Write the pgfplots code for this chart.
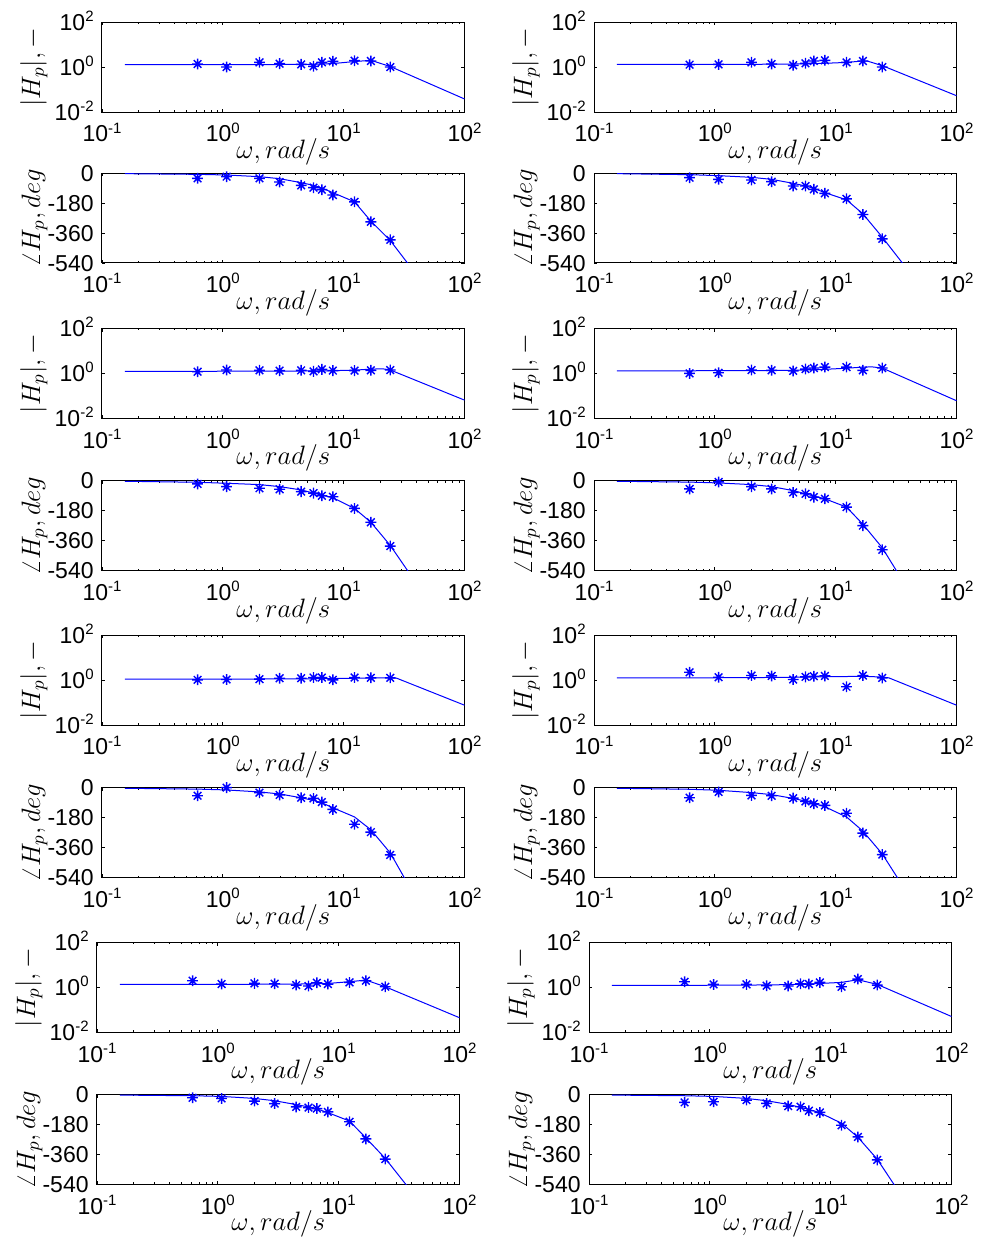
\documentclass[border=0pt]{standalone}
\usepackage{fix-cm}
\usepackage{fontspec}
\setmainfont{Liberation Sans}
\usepackage{pgfplots}
\pgfplotsset{compat=1.18}

\newcommand\pw[1]{10\raisebox{4.4pt}{\fontsize{7.5}{8}\selectfont #1}}

\pgfdeclareplotmark{ast8}{%
  \pgfpathmoveto{\pgfqpoint{0pt}{\pgfplotmarksize}}\pgfpathlineto{\pgfqpoint{0pt}{-\pgfplotmarksize}}%
  \pgfpathmoveto{\pgfqpoint{\pgfplotmarksize}{0pt}}\pgfpathlineto{\pgfqpoint{-\pgfplotmarksize}{0pt}}%
  \pgfpathmoveto{\pgfqpoint{.707\pgfplotmarksize}{.707\pgfplotmarksize}}\pgfpathlineto{\pgfqpoint{-.707\pgfplotmarksize}{-.707\pgfplotmarksize}}%
  \pgfpathmoveto{\pgfqpoint{-.707\pgfplotmarksize}{.707\pgfplotmarksize}}\pgfpathlineto{\pgfqpoint{.707\pgfplotmarksize}{-.707\pgfplotmarksize}}%
  \pgfusepathqstroke}

\pgfplotsset{
  every axis/.append style={
    scale only axis, width=181.25pt, height=45pt,
    xmin=0.1, xmax=100,
    xtick={0.1,1,10,100}, xticklabels={\pw{-1},\pw{0},\pw{1},\pw{2}},
    tick align=inside, major tick length=1.7pt, minor tick length=1pt,
    tick style={black, line width=0.4pt},
    axis line style={black, line width=0.5pt},
    tick label style={font=\fontsize{11.5}{12}\selectfont, inner sep=0pt},
    xticklabel style={anchor=base, yshift=-14.9pt},
    yticklabel style={anchor=base east, xshift=-4pt, yshift=-4.1pt},
    xlabel={$\omega, rad/s$},
    x label style={at={(axis description cs:0.5,0)}, anchor=base, yshift=-23.25pt, font=\fontsize{13.3}{16}\selectfont},
    y label style={at={(axis description cs:-0.171,0.5)}, rotate=0, anchor=base, font=\fontsize{13.3}{16}\selectfont},
    clip mode=individual,
    anchor=north west,
  },
  magAx/.style={ymin=0.01, ymax=100, ytick={0.01,1,100}, yticklabels={\pw{-2},\pw{0},\pw{2}}, yminorticks=false, ylabel={$|H_p|, -$}},
  phaAx/.style={ymin=-540, ymax=0, ytick={-540,-360,-180,0}, yticklabels={-540,-360,-180,0}, ylabel={$\angle H_p, deg$}},
  fitLine/.style={blue, line width=0.5pt, mark=none},
  measPts/.style={blue, only marks, mark=ast8, mark size=2.7pt, mark options={line width=0.7pt}},
}

\begin{document}
\begin{tikzpicture}
\useasboundingbox (0,0) rectangle (490pt,-621pt);

% ===== Pair 1 left =====
\begin{loglogaxis}[magAx, at={(51pt,-11pt)}]
\addplot[fitLine] coordinates {(0.155,1.27)(0.618,1.27)(1.074,1.27)(2.01,1.28)(2.95,1.29)(4.45,1.31)(5.63,1.33)(6.6,1.36)(8.14,1.42)(12.3,1.75)(16.8,1.98)(24.3,1.05)(100,0.038)};
\addplot[measPts] coordinates {(0.618,1.36)(1.074,1.0)(2.01,1.61)(2.95,1.41)(4.45,1.31)(5.63,1.07)(6.6,1.61)(8.14,1.79)(12.3,1.91)(16.8,1.85)(24.3,1.0)};
\end{loglogaxis}
\begin{semilogxaxis}[phaAx, at={(51pt,-86.5pt)}]
\addplot[fitLine] coordinates {(0.155,-4)(0.618,-8)(1.074,-12)(2.01,-22)(2.95,-34)(4.45,-58)(5.63,-74)(6.6,-90)(8.14,-118)(12.3,-173)(16.8,-289)(24.3,-405)(100,-987)};
\addplot[measPts] coordinates {(0.618,-32)(1.074,-22)(2.01,-32)(2.95,-54)(4.45,-74)(5.63,-88)(6.6,-100)(8.14,-132)(12.3,-173)(16.8,-293)(24.3,-401)};
\end{semilogxaxis}

% ===== Pair 1 right =====
\begin{loglogaxis}[magAx, at={(297pt,-11pt)}]
\addplot[fitLine] coordinates {(0.155,1.31)(0.618,1.31)(1.074,1.31)(2.01,1.32)(2.95,1.33)(4.45,1.36)(5.63,1.38)(6.6,1.41)(8.14,1.46)(12.3,1.6)(16.8,1.85)(18.5,1.8)(24.3,1.15)(100,0.053)};
\addplot[measPts] coordinates {(0.618,1.27)(1.074,1.31)(2.01,1.61)(2.95,1.36)(4.45,1.19)(5.63,1.46)(6.6,1.85)(8.14,1.98)(12.3,1.61)(16.8,1.85)(24.3,1.0)};
\end{loglogaxis}
\begin{semilogxaxis}[phaAx, at={(297pt,-86.5pt)}]
\addplot[fitLine] coordinates {(0.155,-4)(0.618,-10)(1.074,-16)(2.01,-26)(2.95,-38)(4.45,-62)(5.63,-78)(6.6,-92)(8.14,-118)(12.3,-161)(16.8,-245)(24.3,-385)(100,-957)};
\addplot[measPts] coordinates {(0.618,-28)(1.074,-38)(2.01,-42)(2.95,-52)(4.45,-78)(5.63,-78)(6.6,-98)(8.14,-122)(12.3,-155)(16.8,-249)(24.3,-395)};
\end{semilogxaxis}

% ===== Pair 2 left =====
\begin{loglogaxis}[magAx, at={(51pt,-164.2pt)}]
\addplot[fitLine] coordinates {(0.155,1.23)(0.618,1.24)(1.074,1.25)(2.01,1.26)(2.95,1.27)(4.45,1.28)(5.63,1.29)(6.6,1.3)(8.14,1.32)(12.3,1.4)(16.8,1.55)(21,1.6)(24.3,1.42)(100,0.065)};
\addplot[measPts] coordinates {(0.618,1.19)(1.074,1.41)(2.01,1.37)(2.95,1.33)(4.45,1.37)(5.63,1.23)(6.6,1.51)(8.14,1.33)(12.3,1.33)(16.8,1.37)(24.3,1.41)};
\end{loglogaxis}
\begin{semilogxaxis}[phaAx, at={(51pt,-240.3pt)}]
\addplot[fitLine] coordinates {(0.155,-4)(0.618,-10)(1.074,-16)(2.01,-24)(2.95,-36)(4.45,-56)(5.63,-75)(6.6,-87)(8.14,-103)(12.3,-167)(16.8,-250)(24.3,-389)(100,-1036)};
\addplot[measPts] coordinates {(0.618,-20)(1.074,-36)(2.01,-46)(2.95,-52)(4.45,-66)(5.63,-75)(6.6,-91)(8.14,-97)(12.3,-167)(16.8,-250)(24.3,-393)};
\end{semilogxaxis}

% ===== Pair 2 right =====
\begin{loglogaxis}[magAx, at={(297pt,-164.2pt)}]
\addplot[fitLine] coordinates {(0.155,1.31)(0.618,1.31)(1.074,1.32)(2.01,1.33)(2.95,1.35)(4.45,1.38)(5.63,1.42)(6.6,1.46)(8.14,1.52)(12.3,1.7)(16.8,1.9)(20,1.95)(24.3,1.73)(100,0.061)};
\addplot[measPts] coordinates {(0.618,1.0)(1.074,1.07)(2.01,1.41)(2.95,1.37)(4.45,1.29)(5.63,1.56)(6.6,1.73)(8.14,1.91)(12.3,1.91)(16.8,1.37)(24.3,1.73)};
\end{loglogaxis}
\begin{semilogxaxis}[phaAx, at={(297pt,-240.3pt)}]
\addplot[fitLine] coordinates {(0.155,-4)(0.618,-9)(1.074,-14)(2.01,-24)(2.95,-36)(4.45,-60)(5.63,-79)(6.6,-93)(8.14,-109)(12.3,-159)(16.8,-262)(24.3,-403)(100,-1124)};
\addplot[measPts] coordinates {(0.618,-50)(1.074,-8)(2.01,-36)(2.95,-50)(4.45,-71)(5.63,-79)(6.6,-99)(8.14,-109)(12.3,-159)(16.8,-270)(24.3,-415)};
\end{semilogxaxis}

% ===== Pair 3 left =====
\begin{loglogaxis}[magAx, at={(51pt,-317.5pt)}]
\addplot[fitLine] coordinates {(0.155,1.09)(0.618,1.1)(1.074,1.1)(2.01,1.11)(2.95,1.12)(4.45,1.13)(5.63,1.14)(6.6,1.15)(8.14,1.16)(12.3,1.2)(16.8,1.24)(24.3,1.25)(27.5,1.2)(100,0.076)};
\addplot[measPts] coordinates {(0.618,1.02)(1.074,1.05)(2.01,1.09)(2.95,1.2)(4.45,1.2)(5.63,1.29)(6.6,1.29)(8.14,1.02)(12.3,1.29)(16.8,1.25)(24.3,1.25)};
\end{loglogaxis}
\begin{semilogxaxis}[phaAx, at={(51pt,-393.8pt)}]
\addplot[fitLine] coordinates {(0.155,-4)(0.618,-9)(1.074,-14)(2.01,-26)(2.95,-38)(4.45,-61)(5.63,-77)(6.6,-91)(8.14,-121)(12.3,-176)(16.8,-253)(24.3,-392)(100,-1177)};
\addplot[measPts] coordinates {(0.618,-49)(1.074,0)(2.01,-30)(2.95,-44)(4.45,-61)(5.63,-65)(6.6,-87)(8.14,-131)(12.3,-220)(16.8,-267)(24.3,-404)};
\end{semilogxaxis}

% ===== Pair 3 right =====
\begin{loglogaxis}[magAx, at={(297pt,-317.5pt)}]
\addplot[fitLine] coordinates {(0.155,1.24)(0.618,1.25)(1.074,1.26)(2.01,1.28)(2.95,1.3)(4.45,1.33)(5.63,1.36)(6.6,1.38)(8.14,1.4)(12.3,1.43)(16.8,1.47)(24.3,1.35)(27.5,1.25)(100,0.076)};
\addplot[measPts] coordinates {(0.618,2.21)(1.074,1.33)(2.01,1.58)(2.95,1.52)(4.45,1.05)(5.63,1.38)(6.6,1.47)(8.14,1.52)(12.3,0.5)(16.8,1.58)(24.3,1.24)};
\end{loglogaxis}
\begin{semilogxaxis}[phaAx, at={(297pt,-393.8pt)}]
\addplot[fitLine] coordinates {(0.155,-4)(0.618,-10)(1.074,-16)(2.01,-30)(2.95,-42)(4.45,-65)(5.63,-81)(6.6,-95)(8.14,-115)(12.3,-176)(16.8,-261)(24.3,-398)(100,-1096)};
\addplot[measPts] coordinates {(0.618,-61)(1.074,-26)(2.01,-47)(2.95,-49)(4.45,-63)(5.63,-83)(6.6,-97)(8.14,-107)(12.3,-154)(16.8,-273)(24.3,-402)};
\end{semilogxaxis}

% ===== Pair 4 left =====
\begin{loglogaxis}[magAx, at={(48.5pt,-471.2pt)}]
\addplot[fitLine] coordinates {(0.155,1.36)(0.618,1.36)(1.074,1.37)(2.01,1.38)(2.95,1.39)(4.45,1.41)(5.63,1.43)(6.6,1.46)(8.14,1.5)(12.3,1.79)(16.8,2.12)(24.3,1.07)(100,0.045)};
\addplot[measPts] coordinates {(0.618,1.98)(1.074,1.41)(2.01,1.51)(2.95,1.46)(4.45,1.27)(5.63,1.15)(6.6,1.61)(8.14,1.41)(12.3,1.67)(16.8,1.98)(24.3,1.07)};
\end{loglogaxis}
\begin{semilogxaxis}[phaAx, at={(48.5pt,-547.2pt)}]
\addplot[fitLine] coordinates {(0.155,-4)(0.618,-8)(1.074,-12)(2.01,-24)(2.95,-38)(4.45,-61)(5.63,-75)(6.6,-87)(8.14,-109)(12.3,-160)(16.8,-261)(24.3,-384)(100,-946)};
\addplot[measPts] coordinates {(0.618,-20)(1.074,-24)(2.01,-40)(2.95,-55)(4.45,-75)(5.63,-79)(6.6,-85)(8.14,-105)(12.3,-164)(16.8,-267)(24.3,-388)};
\end{semilogxaxis}

% ===== Pair 4 right =====
\begin{loglogaxis}[magAx, at={(294.5pt,-471.2pt)}]
\addplot[fitLine] coordinates {(0.155,1.23)(0.618,1.24)(1.074,1.25)(2.01,1.27)(2.95,1.29)(4.45,1.33)(5.63,1.37)(6.6,1.41)(8.14,1.5)(12.3,1.67)(16.8,2.2)(24.3,1.36)(100,0.051)};
\addplot[measPts] coordinates {(0.618,1.79)(1.074,1.36)(2.01,1.36)(2.95,1.19)(4.45,1.15)(5.63,1.46)(6.6,1.41)(8.14,1.67)(12.3,1.07)(16.8,2.35)(24.3,1.27)};
\end{loglogaxis}
\begin{semilogxaxis}[phaAx, at={(294.5pt,-547.2pt)}]
\addplot[fitLine] coordinates {(0.155,-4)(0.618,-8)(1.074,-12)(2.01,-24)(2.95,-38)(4.45,-60)(5.63,-78)(6.6,-90)(8.14,-110)(12.3,-173)(16.8,-257)(24.3,-389)(100,-1060)};
\addplot[measPts] coordinates {(0.618,-48)(1.074,-44)(2.01,-34)(2.95,-54)(4.45,-70)(5.63,-74)(6.6,-98)(8.14,-108)(12.3,-185)(16.8,-255)(24.3,-393)};
\end{semilogxaxis}
\end{tikzpicture}
\end{document}
